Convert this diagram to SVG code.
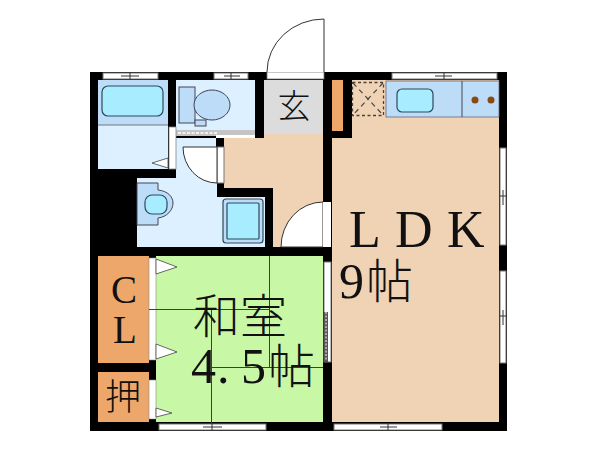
<svg xmlns="http://www.w3.org/2000/svg" width="600" height="450" viewBox="0 0 600 450">
<style>
.w{fill:#000}
.win{fill:#fff;stroke:#777;stroke-width:1}
.ln{fill:none;stroke:#333;stroke-width:1}
.ol{stroke:#2c4a5c;stroke-width:1.2}
.tat{fill:none;stroke:#2f4a2a;stroke-width:1}
.tri{fill:#fff;stroke:#444;stroke-width:.8}
.ser{font-family:"Liberation Serif",serif;fill:#111}
.cjk{font-family:"Noto Sans CJK JP",sans-serif;fill:#111;font-weight:300}
</style>
<rect width="600" height="450" fill="#fff"/>
<g id="walls">
<rect class="w" x="90" y="72" width="417" height="359"/>
</g>
<g id="bath">
<rect x="98" y="80" width="70" height="89" fill="#dcf0ff"/>
<rect x="98" y="80" width="70" height="45" fill="#bcdcf8"/>
<line x1="98" y1="125" x2="168" y2="125" stroke="#777"/>
<rect x="102" y="86" width="61" height="30" rx="6" fill="#a8ecff" class="ol"/>
</g>
<g id="toilet">
<rect x="176" y="80" width="79" height="50" fill="#dcf0ff"/>
<rect x="179" y="87" width="16" height="36" fill="#bcdcf8" stroke="#445"/>
<rect x="195" y="120" width="11" height="6" fill="#bcdcf8" stroke="#445"/>
<ellipse cx="212" cy="105" rx="18" ry="15" fill="#bcdcf8" stroke="#445"/>
<rect x="176" y="130" width="79" height="8" fill="#c4c4c4"/>
<line x1="178" y1="133" x2="217" y2="133" stroke="#fff" stroke-width="1.500" stroke-dasharray="3 1.500"/>
<rect x="216" y="135" width="39" height="3" fill="#fff"/>
<line x1="172" y1="137" x2="216" y2="137" stroke="#000" stroke-width="2"/>
</g>
<g id="genkan">
<rect x="264" y="80" width="59" height="54" fill="#dcdcdc"/>
<text class="cjk" x="294" y="118" font-size="33" text-anchor="middle">玄</text>
</g>
<g id="corridor">
<polygon points="224,138 264,138 264,134 323,134 323,247 273,247 273,188 224,188" fill="#f0d2b4"/>
<path d="M323,202 A42,45 0 0 0 281,247 L323,247 Z" fill="#fff" stroke="#333"/>
<rect x="323" y="202" width="8" height="45" fill="#fff"/>
</g>
<g id="washroom">
<polygon points="176,138 217,138 217,197 265,197 265,247 137,247 137,178 176,178" fill="#dcf0ff"/>
<rect x="217" y="183" width="7" height="14" class="w"/>
<rect x="216" y="138" width="8" height="9" class="w"/>
<rect x="217" y="147" width="7" height="36" fill="#fff" stroke="#777"/>
<path d="M183,147 L217,147 L217,183 A34,36 0 0 1 183,147 Z" fill="#fff" stroke="#333"/>
<path d="M137,183 H158 V190 C168,191 173,197 173,203 C173,210 167,217 158,218 V225 H137 Z" fill="#bcdcf8" stroke="#445"/>
<rect x="145" y="195" width="22" height="19" rx="7" fill="#a8ecff" class="ol"/>
<rect x="223" y="199" width="40" height="44" rx="3" fill="#bcdcf8" class="ol"/>
<rect x="227" y="203" width="32" height="36" rx="1" fill="#a8ecff" class="ol"/>
<rect x="169" y="127" width="7" height="42" fill="#fff" stroke="#888" stroke-width=".8"/>
<polygon class="tri" points="152,163 168,158 168,168"/>
</g>
<g id="closet">
<rect x="98" y="256" width="51" height="107" fill="#eda76b"/>
<rect x="98" y="372" width="51" height="50" fill="#eda76b"/>
<text class="ser" x="124" y="303" font-size="39" text-anchor="middle">C</text>
<text class="ser" x="125" y="343" font-size="39" text-anchor="middle">L</text>
<text class="cjk" x="123" y="410" font-size="36" text-anchor="middle">押</text>
</g>
<g id="washitsu">
<rect x="156" y="256" width="167" height="166" fill="#c8f7a6"/>
<rect x="149" y="258" width="7" height="102" fill="#fff" stroke="#888" stroke-width=".6"/>
<rect x="149" y="380" width="7" height="39" fill="#fff" stroke="#888" stroke-width=".6"/>
<path class="tat" d="M149,309.500H269.500M269.500,256V368M211.500,309.500V423M211.500,367.500H323"/>
<polygon class="tri" points="156,259 177,267 156,274"/>
<polygon class="tri" points="156,344 177,352 156,359"/>
<polygon class="tri" points="156,408 172,413 156,417"/>
<text class="cjk" x="193" y="333" font-size="47">和室</text>
<text class="ser" y="383" font-size="50"><tspan x="191">4</tspan><tspan x="217">.</tspan><tspan x="241">5</tspan><tspan x="268" class="cjk" font-size="47">帖</tspan></text>
</g>
<g id="ldk">
<rect x="332" y="80" width="167" height="342" fill="#f0d2b4"/>
<rect x="332" y="80" width="11" height="51" fill="#eda76b"/>
<rect class="w" x="343" y="80" width="9" height="58"/>
<rect class="w" x="332" y="131" width="20" height="7"/>
<rect x="352.500" y="82.500" width="31" height="33" fill="none" stroke="#444" stroke-width="1.300" stroke-dasharray="3 2.500"/>
<path d="M353,83L383,115M383,83L353,115" fill="none" stroke="#444" stroke-width="1.200" stroke-dasharray="5 4"/>
<rect x="386" y="81" width="113" height="36" fill="#bcdcf8" stroke="#667" stroke-width=".8"/>
<line x1="462" y1="81" x2="462" y2="117" stroke="#445"/>
<rect x="397" y="89" width="36" height="23" rx="5" fill="#a8ecff" class="ol"/>
<circle cx="475" cy="100" r="3.500" fill="#8a4a14"/>
<circle cx="491" cy="100" r="3.500" fill="#8a4a14"/>
<text class="ser" y="247" font-size="52"><tspan x="349">L</tspan><tspan x="395">D</tspan><tspan x="447">K</tspan></text>
<text class="ser" y="298" font-size="50"><tspan x="339">9</tspan><tspan x="366" class="cjk" font-size="47">帖</tspan></text>
</g>
<g id="windows">
<rect class="win" x="103" y="73" width="55" height="6"/><path class="ln" d="M130,72V79M121,76H139"/>
<rect class="win" x="214" y="73" width="34" height="6"/><path class="ln" d="M231,72V79M224,76H240"/>
<rect class="win" x="392" y="73" width="105" height="6"/><path class="ln" d="M444,72V79M435,76H452"/>
<rect class="win" x="500" y="148" width="6" height="97"/><path class="ln" d="M503,190V205M500,196H507"/>
<rect class="win" x="500" y="271" width="6" height="92"/><path class="ln" d="M503,310V325M500,316H507"/>
<rect class="win" x="159" y="424" width="107" height="6"/><path class="ln" d="M212,423V431M203,427H222"/>
<rect class="win" x="334" y="424" width="108" height="6"/><path class="ln" d="M388,423V431M380,427H397"/>
<rect class="win" x="324" y="262" width="7" height="100"/>
<rect x="324" y="312" width="4" height="50" fill="#555"/>
<line x1="326" y1="312" x2="326" y2="361" stroke="#fff" stroke-dasharray="2 1.500"/>
</g>
<g id="entry-door">
<rect x="267" y="72" width="57" height="7" fill="#fff" stroke="#777" stroke-width=".8"/>
<path d="M324,72V19A57,53 0 0 0 267,72" fill="#fff" stroke="#333"/>
</g>
</svg>
